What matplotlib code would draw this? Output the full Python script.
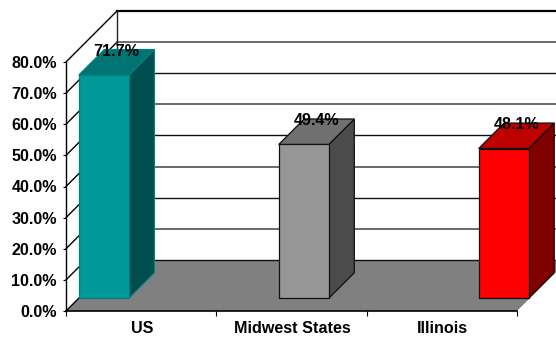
import matplotlib
matplotlib.use("Agg")
import matplotlib.pyplot as plt
from matplotlib.patches import Polygon
from matplotlib.ticker import PercentFormatter

categories = ["US", "Midwest States", "Illinois"]
values = [71.7, 49.4, 48.1]
bar_starts = [0.0, 1.33, 2.66]
yticks = [0, 10, 20, 30, 40, 50, 60, 70, 80]

front_colors = ["#009999", "#969696", "#ff0000"]
top_colors = ["#007373", "#707070", "#bf0000"]
side_colors = ["#004d4d", "#4b4b4b", "#800000"]
edge_colors = ["#008080", "#111111", "#111111"]

BAR_W = 1 / 3
# oblique offset of the back wall, in data units
DX = 51 / 150.33
DY = 51 / 3.1125
YMAX = 80


def proj(x, v, d):
    return (x + d * DX, v + d * DY)


plt.rcParams["font.family"] = ["Liberation Sans", "DejaVu Sans"]
plt.rcParams["font.weight"] = "bold"

fig = plt.figure(figsize=(5.56, 3.37), dpi=100)
ax = fig.add_axes([66 / 556, 26 / 337, 451 / 556, 249 / 337])
ax.set_xlim(0, 3)
ax.set_ylim(0, YMAX)
ax.patch.set_visible(False)

# floor
floor = [proj(0, 0, 0), proj(3, 0, 0), proj(3, 0, 1), proj(0, 0, 1)]
ax.add_patch(Polygon(floor, closed=True, fc="#808080", ec="none", zorder=1, clip_on=False))

# back wall grid and side wall diagonals
for t in yticks:
    x0, y0 = proj(0, t, 0)
    x1, y1 = proj(0, t, 1)
    x2, y2 = proj(3, t, 1)
    ax.plot([x0, x1], [y0, y1], color="black", lw=1.0, zorder=2, clip_on=False)
    if t == YMAX:
        c, w = "black", 1.6
    elif t % 20 == 0:
        c, w = "#111111", 1.0
    else:
        c, w = "#5e5e5e", 1.3
    ax.plot([x1, x2], [y1, y2], color=c, lw=w, zorder=2, clip_on=False)

bx0, by0 = proj(0, 0, 1)
bx1, by1 = proj(0, YMAX, 1)
ax.plot([bx0, bx1], [by0, by1], color="#222222", lw=1.0, zorder=2, clip_on=False)

# bars
for start, val, fc, tc, sc, ec in zip(bar_starts, values, front_colors, top_colors, side_colors, edge_colors):
    end = start + BAR_W
    front = [proj(start, 0, .25), proj(end, 0, .25), proj(end, val, .25), proj(start, val, .25)]
    top = [proj(start, val, .25), proj(end, val, .25), proj(end, val, .75), proj(start, val, .75)]
    side = [proj(end, 0, .25), proj(end, 0, .75), proj(end, val, .75), proj(end, val, .25)]
    ax.add_patch(Polygon(side, closed=True, fc=sc, ec=ec, lw=0.9, zorder=3, clip_on=False))
    ax.add_patch(Polygon(top, closed=True, fc=tc, ec=ec, lw=0.9, zorder=3, clip_on=False))
    ax.add_patch(Polygon(front, closed=True, fc=fc, ec=ec, lw=0.9, zorder=4, clip_on=False))
    lx, ly = proj(start + BAR_W / 2, val, .5)
    ax.text(lx, ly + 3.5, f"{val:.1f}%", ha="center", va="center", fontsize=11.6,
            fontweight="bold", color="black", zorder=5, clip_on=False)

# axes
for name in ["top", "right"]:
    ax.spines[name].set_visible(False)
ax.spines["left"].set_linewidth(1.0)
ax.spines["bottom"].set_linewidth(1.2)
ax.spines["left"].set_zorder(6)
ax.spines["bottom"].set_zorder(6)

ax.set_yticks(yticks)
ax.yaxis.set_major_formatter(PercentFormatter(decimals=1))
ax.set_xticks([0, 1, 2, 3])
ax.set_xticklabels([])
ax.set_xticks([0.507, 1.507, 2.507], minor=True)
ax.set_xticklabels(categories, minor=True)
ax.tick_params(axis="x", which="minor", length=0, pad=7.5, labelsize=11.6)
ax.tick_params(axis="x", which="major", length=3.5, width=0.8)
ax.tick_params(axis="y", length=2.5, width=0.8, pad=4.0, labelsize=11.6)

fig.savefig("out.png", dpi=100)
